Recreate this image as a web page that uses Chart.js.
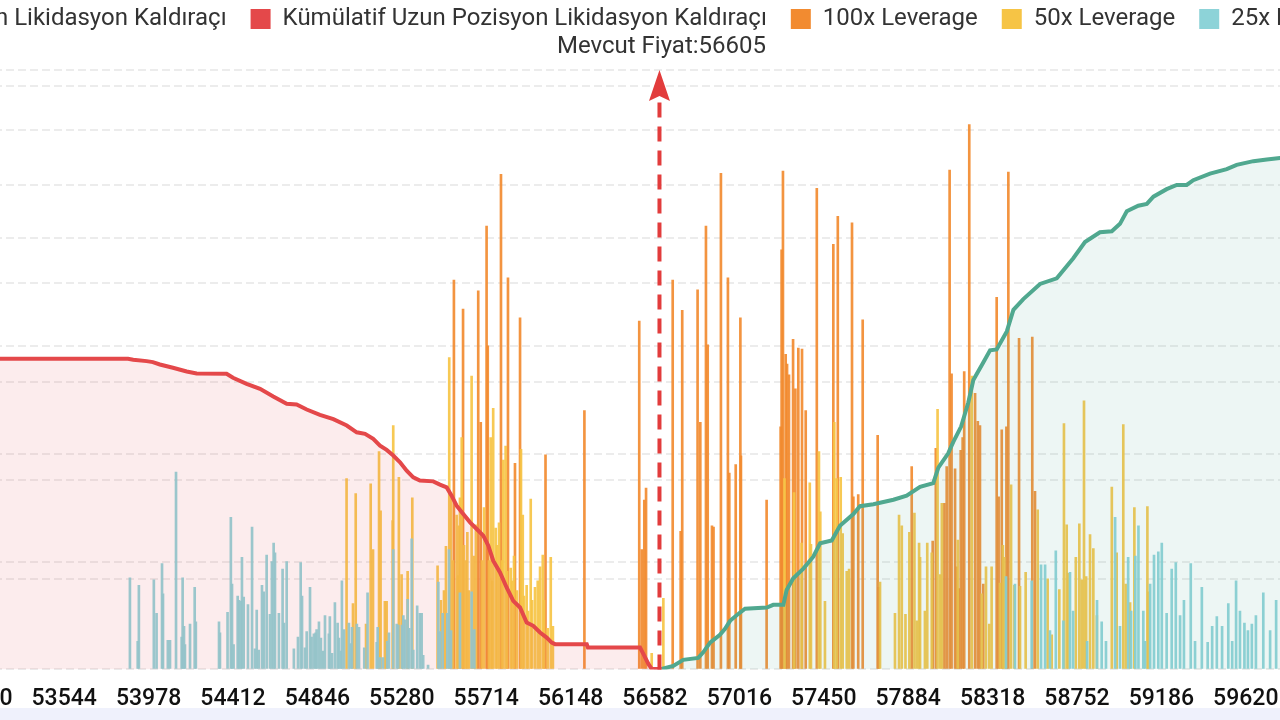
<!DOCTYPE html>
<html>
<head>
<meta charset="utf-8">
<script src="https://cdn.jsdelivr.net/npm/chart.js@4.4.1/dist/chart.umd.min.js"></script>
<style>
  html, body { margin: 0; padding: 0; }
  body { width: 1280px; height: 720px; overflow: hidden; background: #eff1fc; position: relative; }
  #panel { position: absolute; left: 0; top: 0; width: 1280px; height: 708px; background: #fff; overflow: hidden; }
  #wrap { position: absolute; left: -406px; top: -17px; width: 2100px; height: 746px; }
</style>
</head>
<body>
<div id="panel"><div id="wrap"><canvas id="liqChart" width="2100" height="746"></canvas></div></div>
<script>
// current price and price ticks on the x axis
const currentPrice = 56605;
const xTicks = [53110, 53544, 53978, 54412, 54846, 55280, 55714, 56148, 56582, 57016, 57450, 57884, 58318, 58752, 59186, 59620];

// hidden y axes (bars on the left one, cumulative lines on the right one)
const barTicks = [0, 10, 20, 30, 40, 50];
const barMax = 55.57;
const cumTicks = [100, 200, 300, 400, 500, 600];
const cumMin = 8;
const cumMax = 616.2;

// cumulative short liquidations (green) [price, value]
const shortCum = [
  [56616, 8.5], [56676, 11.6], [56727, 17.7], [56804, 19.7], [56830, 25.3], [56865, 35.2], [56916, 43.1], [56942, 49.2],
  [56968, 57.3], [57002, 62.9], [57045, 69.5], [57157, 70.8], [57190, 73.5], [57242, 73.5], [57259, 88.6], [57293, 100.5],
  [57345, 110.3], [57396, 122.3], [57431, 136.0], [57491, 138.8], [57533, 153.8], [57602, 165.7], [57636, 173.6], [57705, 175.6],
  [57808, 180.2], [57876, 184.3], [57945, 193.2], [58013, 197.0], [58039, 212.8], [58089, 227.0], [58116, 238.9], [58156, 254.4],
  [58193, 278.8], [58219, 301.7], [58270, 319.5], [58305, 331.7], [58339, 332.7], [58391, 351.0], [58425, 372.8], [58476, 383.7],
  [58562, 399.1], [58648, 404.8], [58733, 425.2], [58793, 441.6], [58870, 451.6], [58931, 452.6], [58973, 460.1], [59008, 472.9],
  [59067, 478.5], [59111, 480.4], [59145, 487.7], [59213, 495.3], [59265, 499.6], [59316, 499.6], [59350, 504.4], [59436, 511.0],
  [59522, 515.6], [59573, 520.0], [59659, 523.7], [59728, 525.4], [59830, 527.6]
];

// cumulative long liquidations (red) [price, value]
const longCum = [
  [53150, 323.2], [53872, 323.2], [53899, 322.2], [53968, 320.8], [54000, 319.8], [54036, 317.4], [54103, 314.1], [54174, 310.3],
  [54225, 308.3], [54379, 308.0], [54412, 303.9], [54482, 297.8], [54551, 292.7], [54619, 284.9], [54688, 277.5], [54739, 276.8],
  [54791, 271.7], [54859, 266.3], [54928, 261.9], [54997, 255.5], [55048, 248.6], [55091, 247.0], [55133, 241.9], [55168, 235.1],
  [55202, 230.7], [55236, 225.0], [55271, 218.2], [55305, 209.7], [55339, 202.9], [55373, 199.6], [55442, 198.8], [55476, 195.5],
  [55511, 192.7], [55536, 184.3], [55562, 174.1], [55596, 165.6], [55631, 157.2], [55665, 150.5], [55699, 143.7], [55725, 133.5],
  [55750, 118.3], [55785, 106.4], [55819, 91.1], [55853, 77.6], [55888, 70.8], [55922, 55.6], [55956, 52.2], [55991, 45.4],
  [56025, 40.3], [56051, 35.2], [56068, 33.6], [56231, 33.6], [56237, 30.2], [56505, 30.2], [56522, 23.8], [56548, 13.6],
  [56565, 8.5], [56616, 8.5]
];

// 100x leverage [price, value]
const lev100 = [
  [55548, 36.1], [55595, 33.4], [55673, 35.1], [55686, 22.9], [55716, 41.1], [55722, 30.0], [55790, 45.9], [55826, 36.3],
  [55862, 19.1], [55888, 32.6], [56019, 19.9], [56219, 24.0], [56501, 32.3], [56514, 11.1], [56527, 15.7], [56536, 16.8],
  [56673, 36.1], [56714, 12.8], [56722, 33.3], [56801, 35.2], [56815, 22.9], [56844, 41.1], [56853, 30.1], [56875, 13.3],
  [56883, 13.2], [56921, 46.0], [56957, 36.3], [56964, 18.2], [56997, 19.0], [57021, 32.6], [57024, 19.8], [57156, 15.7],
  [57228, 22.5], [57233, 38.9], [57240, 46.2], [57254, 29.2], [57261, 28.3], [57271, 27.3], [57292, 30.6], [57304, 26.0],
  [57319, 29.8], [57338, 29.7], [57357, 24.0], [57414, 44.6], [57499, 39.4], [57522, 42.0], [57595, 41.4], [57602, 16.0],
  [57627, 16.2], [57650, 32.4], [57727, 21.7], [57732, 7.6], [57902, 18.8], [58010, 11.9], [58026, 20.5], [58070, 15.4],
  [58082, 18.8], [58097, 46.3], [58107, 27.4], [58125, 18.6], [58134, 9.5], [58144, 7.5], [58154, 20.3], [58164, 21.5],
  [58172, 27.6], [58198, 50.5], [58228, 25.6], [58242, 23.0], [58253, 22.6], [58270, 7.9], [58339, 34.5], [58349, 16.0],
  [58365, 22.2], [58389, 22.5], [58399, 46.1], [58454, 30.7], [58522, 30.8], [58536, 16.5]
];

// 50x leverage [price, value]
const lev50 = [
  [54996, 17.7], [55029, 6.1], [55043, 16.3], [55096, 4.2], [55120, 17.2], [55132, 11.1], [55163, 20.2], [55171, 14.7],
  [55193, 6.3], [55202, 6.3], [55233, 13.8], [55236, 22.6], [55265, 17.8], [55279, 8.8], [55310, 9.1], [55334, 15.9],
  [55464, 9.6], [55481, 6.4], [55497, 7.3], [55507, 11.4], [55524, 28.9], [55533, 16.3], [55543, 10.1], [55562, 14.3],
  [55569, 8.7], [55574, 13.3], [55579, 15.9], [55588, 21.5], [55600, 11.5], [55610, 10.1], [55617, 12.7], [55625, 7.3],
  [55639, 27.2], [55651, 10.5], [55661, 13.4], [55692, 10.1], [55703, 15.0], [55728, 10.1], [55737, 21.5], [55744, 8.2],
  [55750, 24.2], [55763, 13.1], [55770, 11.5], [55780, 13.6], [55795, 10.1], [55802, 19.4], [55814, 20.7], [55821, 9.1],
  [55840, 9.4], [55847, 8.2], [55857, 10.5], [55872, 7.3], [55893, 20.4], [55902, 14.3], [55908, 6.8], [55922, 7.8],
  [55929, 5.4], [55943, 15.8], [55950, 6.4], [55965, 7.6], [55979, 8.2], [55991, 9.5], [56005, 10.6], [56011, 6.4],
  [56030, 3.8], [56046, 10.4], [56057, 4.0], [56565, 1.5], [56625, 6.6],
  [57248, 17.7], [57297, 16.4], [57336, 11.7], [57378, 17.3], [57384, 11.6], [57425, 20.2], [57432, 14.6], [57456, 6.3],
  [57504, 22.9], [57516, 17.7], [57537, 17.8], [57547, 12.6], [57568, 9.1], [57580, 9.3], [57739, 8.1], [57816, 5.2],
  [57837, 14.3], [57851, 13.3], [57870, 5.1], [57890, 12.7], [57916, 14.5], [57928, 4.5], [57940, 11.7], [57945, 10.4],
  [57970, 5.4], [57982, 11.7], [58005, 10.8], [58035, 24.1], [58049, 8.8], [58057, 15.4], [58139, 12.0], [58211, 27.2],
  [58262, 7.0], [58284, 9.5], [58301, 4.2], [58313, 9.5], [58356, 8.0], [58371, 11.5], [58378, 10.4], [58413, 17.1],
  [58430, 7.8], [58459, 7.7], [58488, 9.0], [58550, 14.8], [58601, 8.4], [58622, 3.2], [58661, 7.4], [58685, 22.8],
  [58699, 13.4], [58707, 8.9], [58746, 10.4], [58764, 13.5], [58776, 8.3], [58788, 24.9], [58799, 8.6], [58819, 12.5],
  [58836, 11.2], [58854, 5.0], [58931, 16.9], [58956, 10.8], [58990, 22.7], [59003, 7.9], [59025, 6.2], [59047, 15.0],
  [59114, 15.1], [59119, 7.2]
];

// 25x leverage [price, value]
const lev25 = [
  [53882, 8.5], [53922, 2.6], [53928, 7.8], [54005, 8.3], [54019, 5.2], [54047, 9.8], [54052, 7.0], [54077, 2.7],
  [54088, 2.7], [54119, 18.3], [54148, 3.0], [54153, 8.5], [54160, 4.0], [54165, 2.3], [54191, 4.2], [54215, 7.6],
  [54221, 4.4], [54340, 4.4], [54345, 3.4], [54384, 5.3], [54401, 14.1], [54407, 7.9], [54415, 2.3], [54436, 6.8],
  [54443, 6.4], [54451, 6.3], [54458, 10.4], [54467, 6.7], [54489, 6.0], [54510, 13.2], [54525, 1.9], [54534, 5.5],
  [54544, 1.8], [54561, 7.8], [54570, 7.2], [54585, 10.6], [54602, 5.1], [54612, 10.0], [54621, 11.7], [54628, 10.8],
  [54648, 5.2], [54667, 9.3], [54674, 4.3], [54688, 10.0], [54725, 1.9], [54746, 3.0], [54760, 9.9], [54767, 6.8],
  [54782, 2.0], [54791, 3.5], [54808, 7.6], [54816, 3.0], [54828, 3.3], [54837, 3.4], [54842, 3.7], [54854, 4.4],
  [54864, 2.9], [54875, 1.7], [54885, 5.0], [54905, 3.3], [54910, 4.9], [54921, 1.5], [54936, 6.2], [54950, 4.3],
  [54957, 2.9], [54966, 1.7], [54972, 8.2], [54983, 3.7], [55008, 4.3], [55017, 2.4], [55024, 3.9], [55049, 4.2],
  [55060, 3.9], [55087, 2.0], [55104, 7.1], [55151, 2.5], [55156, 3.9], [55168, 1.1], [55183, 1.1], [55205, 2.6],
  [55214, 3.4], [55236, 11.1], [55254, 4.2], [55262, 4.1], [55281, 4.1], [55288, 5.0], [55298, 4.6], [55310, 6.5],
  [55318, 3.8], [55331, 12.1], [55339, 1.8], [55359, 5.9], [55373, 5.2], [55382, 5.2], [55390, 1.3], [55415, 0.4],
  [55468, 8.1], [55476, 3.5], [55490, 5.2], [55514, 5.2], [55523, 11.1], [55533, 3.6], [55579, 7.1], [55639, 7.2],
  [55653, 3.7],
  [58387, 8.6], [58433, 7.9], [58519, 8.2], [58567, 9.7], [58588, 9.7], [58613, 3.6], [58643, 11.0], [58682, 4.5],
  [58716, 9.0], [58732, 5.4], [58804, 2.6], [58855, 6.4], [58879, 4.4], [58901, 2.6], [58948, 14.1], [58973, 4.0],
  [59015, 10.4], [59030, 5.4], [59052, 10.5], [59068, 13.3], [59093, 5.4], [59102, 2.6], [59128, 7.9], [59148, 10.6],
  [59170, 10.9], [59188, 11.7], [59213, 5.2], [59239, 9.3], [59260, 9.9], [59282, 5.0], [59302, 6.4], [59337, 9.8],
  [59359, 2.6], [59394, 7.6], [59424, 2.5], [59447, 4.0], [59471, 4.9], [59498, 4.0], [59530, 6.1], [59550, 2.6],
  [59570, 8.2], [59590, 5.4], [59613, 4.3], [59631, 3.6], [59651, 4.2], [59672, 5.0], [59710, 7.1], [59745, 3.6],
  [59776, 6.4]
];

// 10x leverage: nothing inside the visible price window
const lev10 = [];

const legendNames = [
  'Kümülatif Kısa Pozisyon Likidasyon Kaldıraçı',
  'Kümülatif Uzun Pozisyon Likidasyon Kaldıraçı',
  '100x Leverage', '50x Leverage', '25x Leverage', '10x Leverage'
];
const swatch = ['#50a88f', '#e4484a', '#f28b30', '#f6c445', '#8dd3d8', '#5b7be0'];

// layout: the canvas is wider than the window, the window shows a slice of it
const WRAP_LEFT = -406, WRAP_W = 2100, PAD_X = 40;
const pxPerUnit = 84.4 / 434;
const anchorPrice = 56582, anchorPx = 655;
const areaLeft = WRAP_LEFT + PAD_X, areaRight = WRAP_LEFT + WRAP_W - PAD_X;
const xMin = anchorPrice - (anchorPx - areaLeft) / pxPerUnit;
const xMax = anchorPrice + (areaRight - anchorPx) / pxPerUnit;

const toXY = arr => arr.map(([x, y]) => ({ x, y }));

const barStyle = { type: 'bar', yAxisID: 'y', barThickness: 2, grouped: false, borderWidth: 0 };

// red dashed arrow on the current price + caption
const priceMarker = {
  id: 'priceMarker',
  afterDatasetsDraw(chart) {
    const { ctx, chartArea, scales: { x } } = chart;
    const px = x.getPixelForValue(currentPrice);
    const top = chartArea.top;
    ctx.save();
    ctx.strokeStyle = '#e23c3c';
    ctx.lineWidth = 4;
    ctx.setLineDash([15, 9]);
    ctx.beginPath();
    ctx.moveTo(px, chartArea.bottom);
    ctx.lineTo(px, top + 28);
    ctx.stroke();
    ctx.setLineDash([]);
    ctx.fillStyle = '#e23c3c';
    ctx.beginPath();
    ctx.moveTo(px, top);
    ctx.lineTo(px + 10.5, top + 31);
    ctx.lineTo(px, top + 26);
    ctx.lineTo(px - 10.5, top + 31);
    ctx.closePath();
    ctx.fill();
    ctx.fillStyle = '#333';
    ctx.font = '24px Roboto';
    ctx.textAlign = 'center';
    ctx.textBaseline = 'middle';
    ctx.fillText('Mevcut Fiyat:' + currentPrice, px + 2, top - 23);
    ctx.restore();
  }
};

new Chart(document.getElementById('liqChart'), {
  type: 'bar',
  data: {
    datasets: [
      { type: 'line', label: legendNames[0], data: toXY(shortCum), yAxisID: 'y2', order: 1,
        borderColor: swatch[0], backgroundColor: 'rgba(80,168,143,0.1)', fill: 'start',
        borderWidth: 4, pointRadius: 0, tension: 0 },
      { type: 'line', label: legendNames[1], data: toXY(longCum), yAxisID: 'y2', order: 2,
        borderColor: swatch[1], backgroundColor: 'rgba(228,72,74,0.1)', fill: 'start',
        borderWidth: 4, pointRadius: 0, tension: 0 },
      { ...barStyle, label: legendNames[2], data: toXY(lev100), order: 5, backgroundColor: 'rgba(242,139,48,0.92)' },
      { ...barStyle, label: legendNames[3], data: toXY(lev50), order: 4, backgroundColor: 'rgba(246,196,69,0.92)' },
      { ...barStyle, label: legendNames[4], data: toXY(lev25), order: 3, backgroundColor: 'rgba(141,211,216,0.95)' },
      { ...barStyle, label: legendNames[5], data: toXY(lev10), order: 6, backgroundColor: swatch[5] }
    ]
  },
  options: {
    responsive: false,
    animation: false,
    events: [],
    layout: { padding: { left: PAD_X, right: PAD_X, top: 0, bottom: 0 } },
    plugins: {
      legend: {
        position: 'top',
        labels: {
          boxWidth: 20,
          boxHeight: 20,
          padding: 24,
          color: '#333',
          font: { family: 'Roboto', size: 24 },
          sort: (a, b) => a.datasetIndex - b.datasetIndex,
          generateLabels: chart => Chart.defaults.plugins.legend.labels.generateLabels(chart).map(item => ({
            ...item, fillStyle: swatch[item.datasetIndex], strokeStyle: swatch[item.datasetIndex], lineWidth: 0
          }))
        }
      },
      // empty spacer between legend and plot (room for the price caption)
      title: { display: true, text: '', weight: 500, font: { size: 10 }, padding: { top: 9, bottom: 8 } },
      tooltip: { enabled: false }
    },
    scales: {
      x: {
        type: 'linear',
        min: xMin,
        max: xMax,
        offset: false,
        grid: { display: false, drawTicks: false },
        border: { display: false },
        afterBuildTicks: s => { s.ticks = xTicks.map(v => ({ value: v })); },
        ticks: {
          autoSkip: false,
          maxRotation: 0,
          padding: 16,
          color: '#111',
          font: { family: 'Roboto', size: 23, weight: '500' },
          callback: v => String(v)
        }
      },
      y: {
        position: 'left',
        min: 0,
        max: barMax,
        afterBuildTicks: s => { s.ticks = [...barTicks, barMax].map(v => ({ value: v })); },
        ticks: { display: false },
        border: { display: false, dash: [8, 4] },
        grid: { color: '#ececec', lineWidth: 2, drawTicks: false }
      },
      y2: {
        position: 'right',
        min: cumMin,
        max: cumMax,
        afterBuildTicks: s => { s.ticks = cumTicks.map(v => ({ value: v })); },
        ticks: { display: false },
        border: { display: false, dash: [8, 4] },
        grid: { color: '#ececec', lineWidth: 2, drawTicks: false }
      }
    }
  },
  plugins: [priceMarker]
});
</script>
</body>
</html>
